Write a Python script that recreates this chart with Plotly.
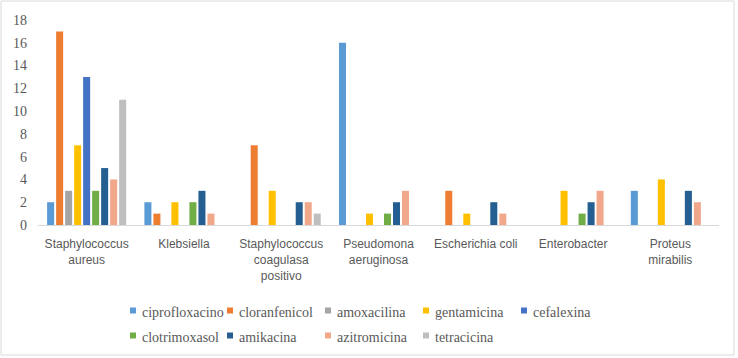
import plotly.graph_objects as go

categories = ["Staphylococcus<br>aureus", "Klebsiella", "Staphylococcus<br>coagulasa<br>positivo",
              "Pseudomona<br>aeruginosa", "Escherichia coli", "Enterobacter", "Proteus<br>mirabilis"]

ciprofloxacino = [2, 2, 0, 16, 0, 0, 3]
cloranfenicol = [17, 1, 7, 0, 3, 0, 0]
amoxacilina = [3, 0, 0, 0, 0, 0, 0]
gentamicina = [7, 2, 3, 1, 1, 3, 4]
cefalexina = [13, 0, 0, 0, 0, 0, 0]
clotrimoxasol = [3, 2, 0, 1, 0, 1, 0]
amikacina = [5, 3, 2, 2, 2, 2, 3]
azitromicina = [4, 1, 2, 3, 1, 3, 2]
tetracicina = [11, 0, 1, 0, 0, 0, 0]

series = [
    ("ciprofloxacino", ciprofloxacino, "#5B9BD5"),
    ("cloranfenicol", cloranfenicol, "#ED7D31"),
    ("amoxacilina", amoxacilina, "#A5A5A5"),
    ("gentamicina", gentamicina, "#FFC000"),
    ("cefalexina", cefalexina, "#4472C4"),
    ("clotrimoxasol", clotrimoxasol, "#70AD47"),
    ("amikacina", amikacina, "#255E91"),
    ("azitromicina", azitromicina, "#F1A78A"),
    ("tetracicina", tetracicina, "#BFBFBF"),
]

W, H = 738, 358
L, R, T, B = 38, 19, 20, 133
PW, PH = W - L - R, H - T - B


def px_x(px):
    return (px - L) / PW


def px_y(py):
    return (H - B - py) / PH


fig = go.Figure()
for name, vals, color in series:
    fig.add_trace(go.Bar(name=name, x=categories, y=vals, marker_color=color,
                         marker_line_width=0, showlegend=False))

# Legend drawn as text + colour squares (two rows, fixed columns like the original)
legend_cols = [140, 237, 335, 433, 531]
legend_rows = [312, 337]
shapes = [dict(type="rect", xref="paper", yref="paper",
               x0=px_x(1), x1=px_x(734), y0=px_y(355), y1=px_y(1),
               line=dict(color="#D9D9D9", width=1), fillcolor="rgba(0,0,0,0)", layer="below")]
annotations = []
for i, (name, _, color) in enumerate(series):
    row, col = divmod(i, 5)
    tx, ty = legend_cols[col], legend_rows[row]
    shapes.append(dict(type="rect", xref="paper", yref="paper",
                       x0=px_x(tx - 10), x1=px_x(tx - 4), y0=px_y(ty + 1.5), y1=px_y(ty - 4.5),
                       line=dict(width=0), fillcolor=color))
    annotations.append(dict(text=name, xref="paper", yref="paper", x=px_x(tx), y=px_y(ty),
                            xanchor="left", yanchor="middle", showarrow=False,
                            font=dict(family="Liberation Serif", size=14, color="#595959")))

fig.update_layout(
    width=W, height=H,
    margin=dict(l=L, r=R, t=T, b=B),
    paper_bgcolor="white", plot_bgcolor="white",
    barmode="group", bargap=0.167, bargroupgap=0.22,
    showlegend=False,
    xaxis=dict(showline=True, linecolor="#D9D9D9", linewidth=1, ticks="", automargin=False,
               tickfont=dict(family="Liberation Sans", size=12, color="#595959"),
               ticklabelstandoff=8, tickangle=0),
    yaxis=dict(range=[0, 18], dtick=2, showgrid=False, zeroline=False, showline=False,
               automargin=False,
               tickfont=dict(family="Liberation Serif", size=14, color="#595959"),
               ticklabelstandoff=10),
    shapes=shapes,
    annotations=annotations,
)

fig.write_html("out.html", config={"displayModeBar": False},
               post_script="document.body.style.margin='0';document.body.style.overflow='hidden';")
